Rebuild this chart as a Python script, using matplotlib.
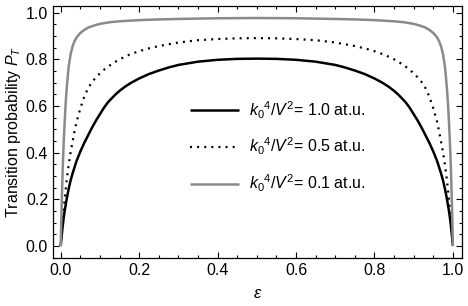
import matplotlib
matplotlib.use("Agg")
import matplotlib.pyplot as plt
from matplotlib.ticker import MultipleLocator, FormatStrFormatter

plt.rcParams['font.family'] = ['Liberation Sans', 'DejaVu Sans']
plt.rcParams['mathtext.fontset'] = 'custom'
plt.rcParams['mathtext.rm'] = 'Liberation Sans'
plt.rcParams['mathtext.it'] = 'Liberation Sans:italic'

# values
eps_black = [0, 0.0025, 0.005, 0.0075, 0.01, 0.015, 0.02, 0.025, 0.03, 0.04, 0.05, 0.06, 0.07, 0.08, 0.09,
             0.1, 0.11, 0.12, 0.13, 0.14, 0.15, 0.165, 0.18, 0.2, 0.225, 0.25, 0.275, 0.3, 0.35, 0.4, 0.45, 0.5,
             0.55, 0.6, 0.65, 0.7, 0.725, 0.75, 0.775, 0.8, 0.82, 0.835, 0.85, 0.86, 0.87, 0.88, 0.89,
             0.9, 0.91, 0.92, 0.93, 0.94, 0.95, 0.96, 0.97, 0.975, 0.98, 0.985, 0.99, 0.9925, 0.995, 0.9975, 1.0]
p_black = [0, 0.045, 0.085, 0.12, 0.15, 0.2, 0.243, 0.28, 0.31, 0.363, 0.405, 0.442, 0.475, 0.508, 0.538,
           0.565, 0.592, 0.615, 0.633, 0.65, 0.665, 0.684, 0.7, 0.718, 0.737, 0.752, 0.765, 0.776, 0.79, 0.798, 0.802, 0.803,
           0.802, 0.798, 0.79, 0.776, 0.765, 0.752, 0.737, 0.718, 0.7, 0.684, 0.665, 0.65, 0.633, 0.615, 0.592,
           0.565, 0.538, 0.508, 0.475, 0.442, 0.405, 0.363, 0.31, 0.28, 0.243, 0.2, 0.15, 0.12, 0.085, 0.045, 0]

eps_dot = [0, 0.002, 0.004, 0.006, 0.008, 0.01, 0.0125, 0.015, 0.02, 0.025, 0.03, 0.035, 0.04, 0.05, 0.06, 0.07,
           0.08, 0.09, 0.1, 0.11, 0.12, 0.135, 0.15, 0.175, 0.2, 0.225, 0.25, 0.3, 0.35, 0.4, 0.45, 0.5,
           0.55, 0.6, 0.65, 0.7, 0.75, 0.775, 0.8, 0.825, 0.85, 0.865, 0.88, 0.89, 0.9, 0.91, 0.92, 0.93,
           0.94, 0.95, 0.96, 0.965, 0.97, 0.975, 0.98, 0.985, 0.9875, 0.99, 0.992, 0.994, 0.996, 0.998, 1.0]
p_dot = [0, 0.05, 0.09, 0.125, 0.165, 0.2, 0.24, 0.28, 0.345, 0.4, 0.445, 0.49, 0.53, 0.59, 0.64, 0.677,
         0.703, 0.723, 0.74, 0.755, 0.768, 0.785, 0.8, 0.82, 0.835, 0.847, 0.857, 0.872, 0.882, 0.887, 0.89, 0.891,
         0.89, 0.887, 0.882, 0.872, 0.857, 0.847, 0.835, 0.82, 0.8, 0.785, 0.768, 0.755, 0.74, 0.723, 0.703, 0.677,
         0.64, 0.59, 0.53, 0.49, 0.445, 0.4, 0.345, 0.28, 0.24, 0.2, 0.165, 0.125, 0.09, 0.05, 0]

eps_gray = [0, 0.001, 0.002, 0.003, 0.005, 0.0075, 0.01, 0.0125, 0.015, 0.0175, 0.02, 0.025, 0.03, 0.035, 0.04,
            0.05, 0.06, 0.07, 0.085, 0.1, 0.125, 0.15, 0.2, 0.25, 0.3, 0.4, 0.5,
            0.6, 0.7, 0.75, 0.8, 0.85, 0.875, 0.9, 0.915, 0.93, 0.94, 0.95, 0.96, 0.965, 0.97, 0.975,
            0.98, 0.9825, 0.985, 0.9875, 0.99, 0.9925, 0.995, 0.997, 0.998, 0.999, 1.0]
p_gray = [0, 0.08, 0.15, 0.21, 0.33, 0.44, 0.53, 0.61, 0.67, 0.72, 0.765, 0.82, 0.855, 0.877, 0.893,
          0.913, 0.926, 0.936, 0.945, 0.952, 0.959, 0.963, 0.968, 0.971, 0.973, 0.976, 0.977,
          0.976, 0.973, 0.971, 0.968, 0.963, 0.959, 0.952, 0.945, 0.936, 0.926, 0.913, 0.893, 0.877, 0.855, 0.82,
          0.765, 0.72, 0.67, 0.61, 0.53, 0.44, 0.33, 0.21, 0.15, 0.08, 0]

labels = [r'$k_0{}^4/V^2$= 1.0 at.u.', r'$k_0{}^4/V^2$= 0.5 at.u.', r'$k_0{}^4/V^2$= 0.1 at.u.']

fig = plt.figure(figsize=(4.68, 3.06), dpi=100)
ax = fig.add_axes([0.113, 0.157, 0.874, 0.823])

ax.plot(eps_black, p_black, color='black', lw=1.8, label=labels[0], solid_capstyle='butt', solid_joinstyle='round')
ax.plot(eps_dot, p_dot, color='black', lw=1.6, linestyle=(0, (0.9, 2.3)), label=labels[1])
ax.plot(eps_gray, p_gray, color='#8a8a8a', lw=1.8, label=labels[2], solid_capstyle='butt', solid_joinstyle='round')

ax.set_xlim(-0.02, 1.023)
ax.set_ylim(-0.051, 1.028)
ax.xaxis.set_major_locator(MultipleLocator(0.2))
ax.xaxis.set_minor_locator(MultipleLocator(0.05))
ax.yaxis.set_major_locator(MultipleLocator(0.2))
ax.yaxis.set_minor_locator(MultipleLocator(0.05))
ax.xaxis.set_major_formatter(FormatStrFormatter('%.1f'))
ax.yaxis.set_major_formatter(FormatStrFormatter('%.1f'))
ax.tick_params(which='both', direction='in', top=True, right=True, colors='black', labelsize=11.5, width=0.8)
ax.tick_params(which='major', length=4.5)
ax.tick_params(which='minor', length=2.5)
for s in ax.spines.values():
    s.set_linewidth(0.9)

ax.set_xlabel(r'$\epsilon$', fontsize=12, labelpad=6)
ax.set_ylabel(r'Transition probability $P_T$', fontsize=11.5, labelpad=2)

ax.legend(loc='upper left', bbox_to_anchor=(0.335, 0.63), frameon=False, fontsize=11.5,
          handlelength=3.1, handletextpad=0.6, labelspacing=0.95, borderpad=0, borderaxespad=0)

fig.savefig('out.png', dpi=100)
